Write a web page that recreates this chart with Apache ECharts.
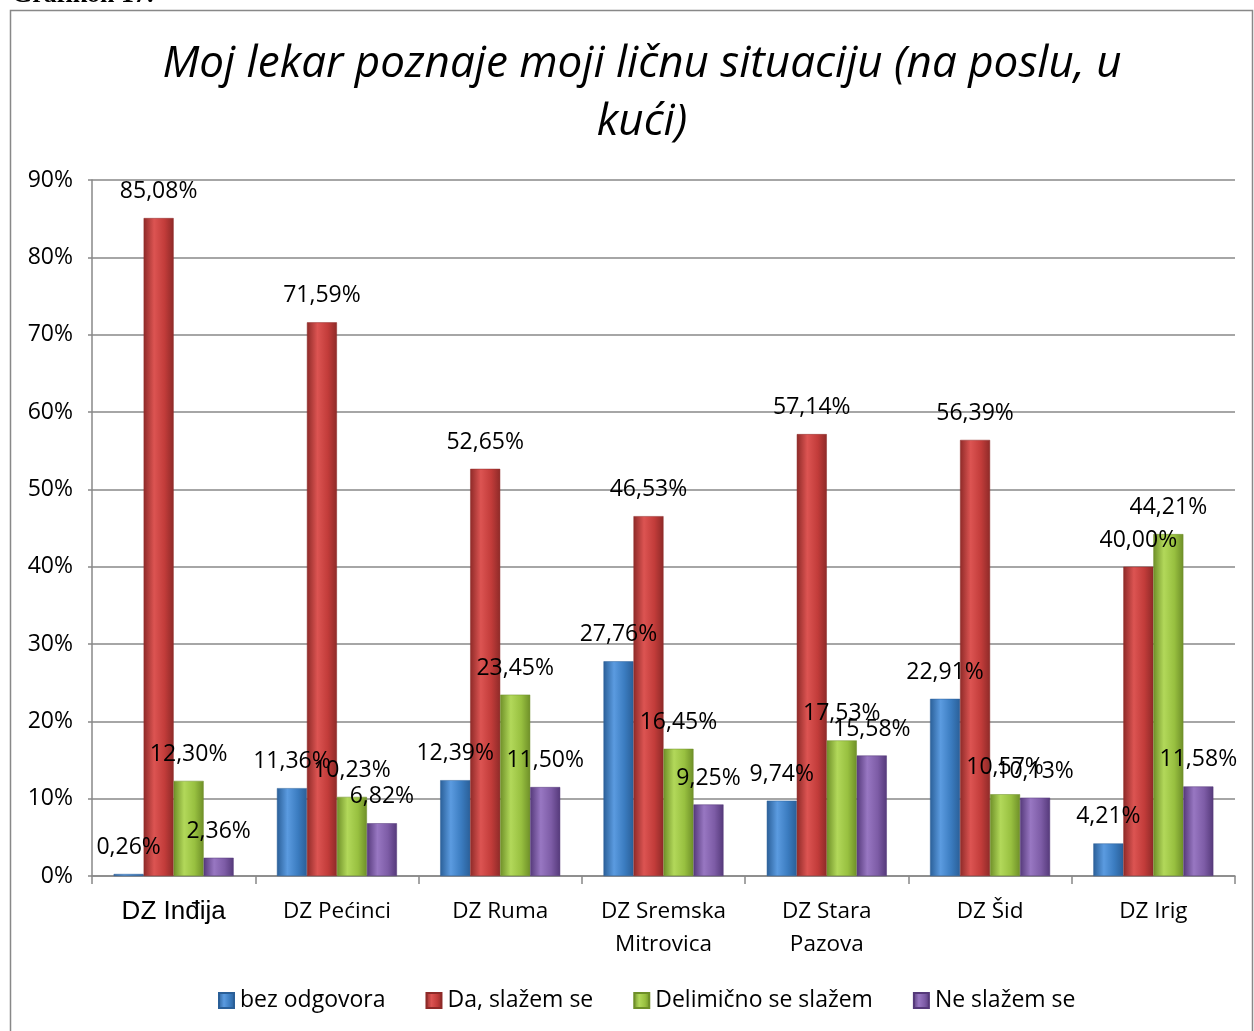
<!DOCTYPE html>
<html>
<head>
<meta charset="utf-8">
<script src="https://cdn.jsdelivr.net/npm/echarts@6/dist/echarts.min.js"></script>
<style>
  html, body { margin: 0; padding: 0; background: #fff; }
  #chart { width: 1254px; height: 1031px; }
</style>
</head>
<body>
<div id="chart"></div>
<script>
var categories = ['DZ Inđija', 'DZ Pećinci', 'DZ Ruma', 'DZ Sremska\nMitrovica', 'DZ Stara\nPazova', 'DZ Šid', 'DZ Irig'];
var bezOdgovora = [0.26, 11.36, 12.39, 27.76, 9.74, 22.91, 4.21];
var daSlazem = [85.08, 71.59, 52.65, 46.53, 57.14, 56.39, 40.00];
var delimicno = [12.30, 10.23, 23.45, 16.45, 17.53, 10.57, 44.21];
var neSlazem = [2.36, 6.82, 11.50, 9.25, 15.58, 10.13, 11.58];
var yTicks = [0, 10, 20, 30, 40, 50, 60, 70, 80, 90];

var myChart = echarts.init(document.getElementById('chart'));
var font = '"Open Sans", "Noto Sans", sans-serif';

// horizontal gradient so bars look a bit rounded like the original
function barColor(dark, mid, light) {
    return new echarts.graphic.LinearGradient(0, 0, 1, 0, [
        { offset: 0, color: dark },
        { offset: 0.35, color: light },
        { offset: 0.7, color: mid },
        { offset: 1, color: dark }
    ]);
}

function makeSeries(name, data, colors) {
    return {
        name: name,
        type: 'bar',
        data: data,
        barWidth: 30,
        barGap: '0%',
        barCategoryGap: '26%',
        itemStyle: {
            color: barColor(colors[0], colors[1], colors[2]),
            borderColor: colors[0],
            borderWidth: 0.5
        },
        label: {
            show: true,
            position: 'top',
            distance: 15,
            color: '#000',
            fontSize: 23,
            fontFamily: font,
            formatter: function (p) {
                return p.value.toFixed(2).replace('.', ',') + '%';
            }
        }
    };
}

var option = {
    animation: false,
    backgroundColor: '#fff',
    title: {
        text: 'Moj lekar poznaje moji ličnu situaciju (na poslu, u\nkući)',
        left: 637,
        textAlign: 'center',
        top: 30,
        textStyle: {
            fontFamily: font,
            fontStyle: 'italic',
            fontWeight: 'normal',
            fontSize: 44,
            lineHeight: 58,
            color: '#000'
        }
    },
    graphic: [{
        type: 'rect',
        shape: { x: 10.5, y: 10.5, width: 1242, height: 1040 },
        style: { fill: null, stroke: '#888', lineWidth: 1.5 }
    }, {
        type: 'text',
        left: 12,
        top: -18,
        style: { text: 'Grafikon 17.', font: 'bold 26px "Liberation Serif", serif', fill: '#000' }
    }],
    legend: {
        bottom: 14,
        left: 213,
        itemWidth: 15,
        itemHeight: 15,
        itemGap: 40,
        icon: 'rect',
        textStyle: { fontFamily: font, fontSize: 23, color: '#000', padding: [0, 0, 0, 1] },
        data: ['bez odgovora', 'Da, slažem se', 'Delimično se slažem', 'Ne slažem se']
    },
    grid: {
        left: 92,
        right: 19,
        top: 180,
        bottom: 155
    },
    xAxis: {
        type: 'category',
        data: categories,
        axisLine: { show: true, lineStyle: { color: '#888', width: 1.5 } },
        axisTick: { show: true, length: 8, lineStyle: { color: '#888', width: 1.5 } },
        axisLabel: {
            margin: 19,
            fontFamily: font,
            fontSize: 22.5,
            lineHeight: 33,
            color: '#000',
            interval: 0,
            formatter: function (v, i) {
                return i === 0 ? '{big|' + v + '}' : v;
            },
            rich: {
                big: { fontFamily: '"Liberation Sans", Arial, sans-serif', fontSize: 26, color: '#000' }
            }
        }
    },
    yAxis: {
        type: 'value',
        min: 0,
        max: 90,
        interval: 10,
        axisLine: { show: true, lineStyle: { color: '#888', width: 1.5 } },
        axisTick: { show: true, length: 4, lineStyle: { color: '#888', width: 1.5 } },
        splitLine: { show: true, lineStyle: { color: '#888', width: 1.5 } },
        axisLabel: {
            margin: 19,
            fontFamily: font,
            fontSize: 23,
            color: '#000',
            formatter: function (v) {
                return yTicks.indexOf(v) >= 0 ? v + '%' : '';
            }
        }
    },
    series: [
        makeSeries('bez odgovora', bezOdgovora, ['#2a5f98', '#3b7cc0', '#5b9be0']),
        makeSeries('Da, slažem se', daSlazem, ['#8e2a28', '#c23c3a', '#dc5452']),
        makeSeries('Delimično se slažem', delimicno, ['#6e8f28', '#98c040', '#b2d85a']),
        makeSeries('Ne slažem se', neSlazem, ['#55397a', '#7d5ca6', '#9877c2'])
    ]
};

myChart.setOption(option);
</script>
</body>
</html>
